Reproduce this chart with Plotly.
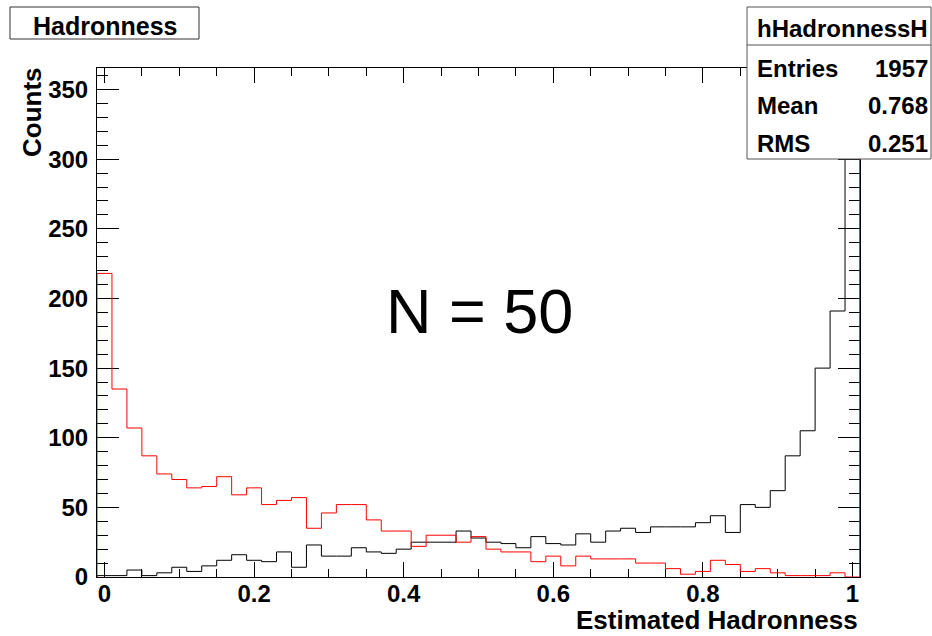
import plotly.graph_objects as go

# Histogram binning: 51 bins of width 0.02 centred on k/50
bin_width = 0.02
bin_centers = [round(k * bin_width, 2) for k in range(51)]

# Counts per bin (hHadronnessH, black)
counts_hadron = [
    1, 1, 5, 1, 3, 7, 4, 8, 12, 16,
    12, 11, 18, 7, 23, 15, 15, 21, 18, 17,
    20, 25, 25, 25, 33, 28, 25, 24, 21, 29,
    24, 23, 31, 25, 33, 35, 32, 36, 36, 36,
    39, 44, 32, 52, 50, 62, 87, 105, 150, 191,
    364,
]

# Counts per bin (gamma sample, red)
counts_gamma = [
    218, 135, 107, 87, 74, 70, 64, 65, 72, 59,
    64, 52, 55, 57, 35, 46, 52, 52, 41, 33,
    33, 22, 30, 30, 25, 29, 20, 18, 18, 11,
    15, 8, 15, 13, 13, 13, 10, 10, 6, 2,
    4, 12, 9, 4, 6, 3, 1, 1, 1, 3,
    0,
]

x_ticks = [0, 0.2, 0.4, 0.6, 0.8, 1]
y_ticks = [0, 50, 100, 150, 200, 250, 300, 350]

stats_name = "hHadronnessH"
stats_rows = [("Entries", "1957"), ("Mean", "0.768"), ("RMS", "0.251")]

X_RANGE = [-0.01, 1.01]
Y_RANGE = [0, 365.5]

FONT = "Liberation Sans, Arial, Helvetica, sans-serif"

# Plot-area geometry in pixels
W, H = 932, 636
L, R, T, B = 97, 72, 68, 59
PW, PH = W - L - R, H - T - B


def px(x):
    return (x - L) / PW


def py(y):
    return (H - B - y) / PH


def step_outline(centers, counts, width):
    """Edges and heights for a ROOT-like step outline."""
    edges = [c - width / 2 for c in centers] + [centers[-1] + width / 2]
    xs = [edges[0]] + edges[:-1] + [edges[-1], edges[-1]]
    ys = [0] + list(counts) + [counts[-1], 0]
    return xs, ys


fig = go.Figure()

xh, yh = step_outline(bin_centers, counts_hadron, bin_width)
fig.add_trace(go.Scatter(x=xh, y=yh, mode="lines", line=dict(color="#000000", width=1, shape="hv"),
                         cliponaxis=False, showlegend=False, hoverinfo="skip"))

xg, yg = step_outline(bin_centers, counts_gamma, bin_width)
fig.add_trace(go.Scatter(x=xg, y=yg, mode="lines", line=dict(color="#ff0000", width=1, shape="hv"),
                         cliponaxis=False, showlegend=False, hoverinfo="skip"))

tickfont = dict(family=FONT, size=24, color="black", weight="bold")

fig.update_xaxes(
    range=X_RANGE, tickvals=x_ticks, ticktext=[f"{v:g}" for v in x_ticks],
    ticks="inside", ticklen=15, tickwidth=1, tickcolor="black",
    minor=dict(dtick=0.05, tick0=0, ticks="inside", ticklen=8, tickcolor="black", tickwidth=1, showgrid=False),
    showline=True, linecolor="black", linewidth=1, mirror="ticks",
    showgrid=False, zeroline=False, tickfont=tickfont, layer="below traces",
    ticklabelstandoff=-5,
)
fig.update_yaxes(
    range=Y_RANGE, tickvals=y_ticks,
    ticks="inside", ticklen=22, tickwidth=1, tickcolor="black",
    minor=dict(dtick=10, tick0=0, ticks="inside", ticklen=11, tickcolor="black", tickwidth=1, showgrid=False),
    showline=True, linecolor="black", linewidth=1, mirror="ticks",
    showgrid=False, zeroline=False, tickfont=tickfont, layer="below traces",
    ticklabelstandoff=3,
)

shapes = []
# red right edge of the frame
shapes.append(dict(type="line", xref="x", yref="paper", x0=X_RANGE[1], x1=X_RANGE[1], y0=0, y1=1,
                   line=dict(color="#ff0000", width=1), layer="above"))
# title box
shapes.append(dict(type="rect", xref="paper", yref="paper", x0=px(10), x1=px(199), y0=py(39), y1=py(7),
                   line=dict(color="#333333", width=1), fillcolor="white", layer="above"))
# statistics box
shapes.append(dict(type="rect", xref="paper", yref="paper", x0=px(747), x1=px(931), y0=py(159), y1=py(7),
                   line=dict(color="#555555", width=1), fillcolor="white", layer="above"))
shapes.append(dict(type="line", xref="paper", yref="paper", x0=px(747), x1=px(931), y0=py(45), y1=py(45),
                   line=dict(color="#555555", width=1), layer="above"))

bold24 = dict(family=FONT, size=24, color="black", weight="bold")
annotations = [
    dict(text="Hadronness", xref="paper", yref="paper", x=px(104.5), y=py(26), xanchor="center", yanchor="middle",
         showarrow=False, font=dict(family=FONT, size=25, color="black", weight="bold")),
    dict(text=stats_name, xref="paper", yref="paper", x=px(842), y=py(28), xanchor="center", yanchor="middle",
         showarrow=False, font=bold24),
    dict(text="N = 50", xref="paper", yref="paper", x=px(479), y=py(311), xanchor="center", yanchor="middle",
         showarrow=False, font=dict(family=FONT, size=63, color="black")),
    dict(text="Estimated Hadronness", xref="paper", yref="paper", x=px(860), y=py(620), xanchor="right",
         yanchor="middle", showarrow=False, font=dict(family=FONT, size=26, color="black", weight="bold")),
    dict(text="Counts", xref="paper", yref="paper", x=px(32), y=py(112), xanchor="center", yanchor="middle",
         textangle=-90, showarrow=False, font=dict(family=FONT, size=26, color="black", weight="bold")),
]
for i, (label, value) in enumerate(stats_rows):
    yc = [68, 105.5, 143][i]
    annotations.append(dict(text=label, xref="paper", yref="paper", x=px(755), y=py(yc), xanchor="left",
                            yanchor="middle", showarrow=False, font=bold24))
    annotations.append(dict(text=value, xref="paper", yref="paper", x=px(930), y=py(yc), xanchor="right",
                            yanchor="middle", showarrow=False, font=bold24))

fig.update_layout(
    width=W, height=H, margin=dict(l=L, r=R, t=T, b=B, autoexpand=False),
    paper_bgcolor="white", plot_bgcolor="white",
    shapes=shapes, annotations=annotations, showlegend=False,
)

fig.write_html("out.html", config={"displayModeBar": False})
